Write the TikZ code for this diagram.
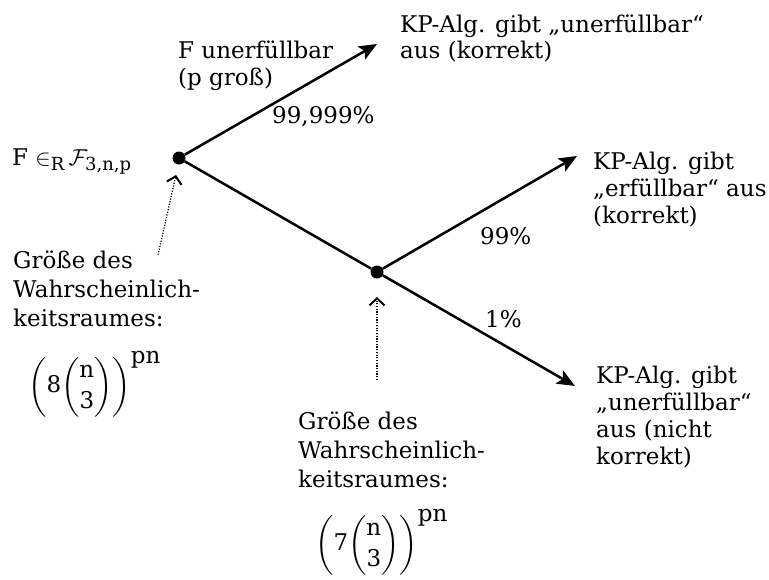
\RequirePackage{fix-cm}
\documentclass[tikz,border=0pt]{standalone}
\usepackage{amsmath}
\usepackage{fontspec}
\setmainfont{DejaVu Serif}
\usetikzlibrary{arrows.meta,calc}
\newcommand\stk[2]{\vtop{\baselineskip=#1pt\lineskiplimit=-100pt\halign{##\hfil\cr#2\crcr}}}
\newcommand\sbx[1]{\mbox{\fontsize{18}{20}\selectfont #1}}
\newcommand\fbx[1]{\mbox{\fontsize{23}{27}\selectfont #1}}
\tikzset{
  txt/.style={anchor=base west, inner sep=0pt, font=\fontsize{23}{27}\selectfont},
  frm/.style={anchor=west, inner sep=0pt, font=\fontsize{23}{27}\selectfont},
  dotnode/.style={circle, fill=black, minimum size=13pt, inner sep=0pt},
  arr/.style={line width=2.5pt, -{Stealth[length=18pt,width=15pt,inset=4pt]}},
  darr/.style={line width=1.2pt, dash pattern=on 1.2pt off 1.5pt, -{Straight Barb[length=7pt,width=15pt,line width=2pt]}}
}
\begin{document}
\begin{tikzpicture}[x=1pt,y=-1pt]
\useasboundingbox (0,0) rectangle (769,579);
% dots
\node[dotnode] (root) at (179,158) {};
\node[dotnode] (mid) at (377,272) {};
% arrow tips
\coordinate (t1) at (377,44);
\coordinate (t2) at (577,156);
\coordinate (t3) at (575,386);
\draw[line width=2.5pt] (root) -- (mid);
\draw[arr] (root) -- (t1);
\draw[arr] (mid) -- (t2);
\draw[arr] (mid) -- (t3);
% dotted pointers
\coordinate (d1) at (158,255);
\coordinate (e1) at (176,175);
\coordinate (d2) at (377,380);
\coordinate (e2) at (377,297);
\draw[darr] (d1) -- (e1);
\draw[darr] (d2) -- (e2);
% texts
\node[txt] (lroot) at (12,165) {F $\mathord{\in}_{\sbx{R}}\,\mathcal{F}_{\sbx{3,n,p}}$};
\node[txt] (lunerf) at (178,58) {\stk{27}{F unerfüllbar\cr(p groß)}};
\node[txt] (p1) at (272,123) {99,999\%};
\node[txt] (o1) at (400,32) {\stk{26}{KP-Alg. gibt „unerfüllbar“\cr aus (korrekt)}};
\node[txt] (o2) at (593,169) {\stk{27}{KP-Alg. gibt\cr„erfüllbar“ aus\cr(korrekt)}};
\node[txt] (p2) at (480,244) {99\%};
\node[txt] (p3) at (485,327) {1\%};
\node[txt] (o3) at (596,383) {\stk{27}{KP-Alg. gibt\cr„unerfüllbar“\cr aus (nicht\cr korrekt)}};
\node[txt] (g1) at (13,268) {\stk{29}{Größe des\cr Wahrscheinlich-\cr keitsraumes:}};
\node[frm] (f1) at (28,384) {$\left(\fbx{8}\dbinom{\fbx{n}}{\fbx{3}}\right)^{\fbx{pn}}$};
\node[txt] (g2) at (298,429) {\stk{29}{Größe des\cr Wahrscheinlich-\cr keitsraumes:}};
\node[frm] (f2) at (315,542) {$\left(\fbx{7}\dbinom{\fbx{n}}{\fbx{3}}\right)^{\fbx{pn}}$};
\end{tikzpicture}
\end{document}
